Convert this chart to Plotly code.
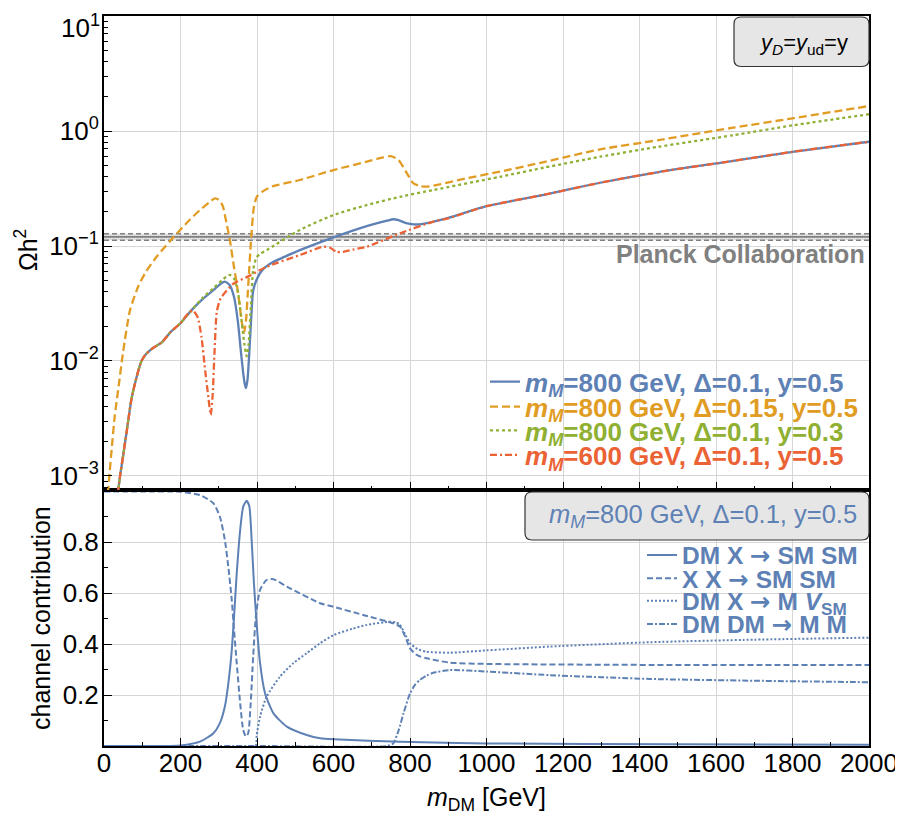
import plotly.graph_objects as go

FONT = "Liberation Sans"
BLUE = "#5E81B5"
ORANGE = "#E19C24"
GREEN = "#8FB032"
RED = "#EB6235"
GRAY = "#808080"

# ---------------- top panel data: relic density Omega h^2 ----------------
x_blue = [36, 42, 50, 59, 72, 85, 98, 110, 130, 151, 175, 200, 229, 260, 286, 305, 316, 328, 340, 350, 358,
          364, 368, 371, 375, 380, 385, 390, 400, 416, 440, 470, 512, 600, 687, 740, 756, 770, 790, 810, 830,
          900, 1000, 1150, 1297, 1450, 1645, 1800, 2000]
y_blue = [0.0007, 0.001, 0.0015, 0.0024, 0.0047, 0.0072, 0.0100, 0.0115, 0.0131, 0.0145, 0.018, 0.0213,
          0.0277, 0.035, 0.0413, 0.047, 0.049, 0.046, 0.036, 0.022, 0.012, 0.0078, 0.0063, 0.0058, 0.0068,
          0.012, 0.024, 0.041, 0.052, 0.063, 0.072, 0.080, 0.092, 0.119, 0.149, 0.166, 0.171, 0.168, 0.158,
          0.154, 0.155, 0.176, 0.222, 0.279, 0.355, 0.44, 0.55, 0.66, 0.807]

x_orange = [10, 15, 20, 28, 37, 50, 68, 90, 110, 138, 170, 199, 225, 251, 275, 290, 300, 310, 320, 329, 340,
            347, 355, 361, 366, 371, 377, 385, 392, 400, 416, 440, 512, 600, 687, 730, 750, 770, 790, 809,
            825, 843, 880, 948, 1035, 1150, 1297, 1450, 1645, 1800, 2000]
y_orange = [0.0007, 0.0011, 0.0017, 0.0033, 0.0056, 0.012, 0.0277, 0.045, 0.060, 0.081, 0.108, 0.138, 0.170,
            0.206, 0.240, 0.260, 0.252, 0.225, 0.160, 0.113, 0.065, 0.047, 0.030, 0.021, 0.0175, 0.022, 0.045,
            0.12, 0.22, 0.27, 0.30, 0.33, 0.375, 0.458, 0.541, 0.59, 0.605, 0.56, 0.44, 0.351, 0.333, 0.328,
            0.345, 0.388, 0.443, 0.537, 0.693, 0.834, 1.07, 1.29, 1.65]

x_green = [36, 42, 50, 59, 72, 85, 98, 110, 130, 151, 175, 200, 229, 260, 286, 310, 329, 340, 350, 360, 367,
           373, 378, 384, 390, 399, 410, 425, 512, 600, 687, 774, 861, 1035, 1150, 1297, 1450, 1645, 1800, 2000]
y_green = [0.0007, 0.001, 0.0015, 0.0024, 0.0047, 0.0072, 0.0100, 0.0115, 0.0131, 0.0145, 0.018, 0.0213,
           0.0277, 0.036, 0.043, 0.051, 0.056, 0.052, 0.040, 0.022, 0.014, 0.011, 0.014, 0.030, 0.062, 0.080,
           0.086, 0.092, 0.138, 0.186, 0.227, 0.268, 0.307, 0.40, 0.48, 0.598, 0.73, 0.92, 1.12, 1.40]

x_red = [36, 42, 50, 59, 72, 85, 98, 110, 130, 151, 175, 200, 220, 232, 245, 255, 265, 273, 279, 284, 289,
         295, 305, 329, 338, 380, 425, 512, 573, 590, 608, 625, 650, 687, 774, 861, 900, 1000, 1150, 1297,
         1450, 1645, 1800, 2000]
y_red = [0.0007, 0.001, 0.0015, 0.0024, 0.0047, 0.0072, 0.0100, 0.0115, 0.0131, 0.0145, 0.018, 0.0213,
         0.026, 0.0275, 0.024, 0.016, 0.008, 0.0048, 0.0034, 0.005, 0.012, 0.027, 0.035, 0.044, 0.047, 0.055,
         0.066, 0.0835, 0.0986, 0.097, 0.089, 0.089, 0.093, 0.0986, 0.129, 0.163, 0.174, 0.222, 0.279, 0.355,
         0.44, 0.55, 0.66, 0.807]

planck_x = [0, 2000]
planck_central = 0.120
planck_error = 0.008

# ---------------- bottom panel data: channel contributions ----------------
x_ch1 = [0, 150, 199, 251, 286, 303, 316, 325, 334, 340, 347, 356, 364, 373, 380, 386, 392, 399, 408, 421,
         443, 478, 530, 565, 600, 774, 1000, 1500, 2000]
y_ch1 = [0.0, 0.0, 0.002, 0.017, 0.05, 0.09, 0.155, 0.245, 0.376, 0.507, 0.677, 0.847, 0.939, 0.962, 0.939,
         0.808, 0.638, 0.481, 0.325, 0.207, 0.128, 0.076, 0.043, 0.03, 0.026, 0.017, 0.010, 0.007, 0.005]

x_ch2 = [0, 100, 199, 251, 286, 303, 316, 325, 334, 340, 347, 356, 364, 371, 377, 383, 390, 397, 408, 425,
         443, 478, 565, 600, 687, 756, 774, 790, 800, 820, 843, 904, 1000, 1427, 2000]
y_ch2 = [0.998, 0.998, 0.997, 0.984, 0.952, 0.899, 0.808, 0.703, 0.573, 0.455, 0.325, 0.168, 0.063, 0.037,
         0.05, 0.155, 0.351, 0.507, 0.612, 0.651, 0.654, 0.625, 0.56, 0.546, 0.51, 0.481, 0.468, 0.42, 0.383,
         0.355, 0.344, 0.327, 0.322, 0.318, 0.318]

x_ch3 = [0, 200, 396, 399, 408, 425, 460, 495, 530, 565, 600, 650, 687, 748, 765, 774, 790, 800,
         820, 843, 904, 1000, 1166, 1427, 1700, 2000]
y_ch3 = [0.0, 0.0, 0.0, 0.04, 0.115, 0.193, 0.272, 0.325, 0.364, 0.403, 0.435, 0.46, 0.475,
         0.487, 0.484, 0.475, 0.43, 0.403, 0.38, 0.37, 0.366, 0.375, 0.39, 0.407, 0.417, 0.425]

x_ch4 = [0, 400, 740, 756, 770, 783, 800, 813, 826, 843, 861, 904, 1000, 1166, 1427, 1700, 2000]
y_ch4 = [0.0, 0.0, 0.0, 0.01, 0.06, 0.128, 0.206, 0.24, 0.259, 0.276, 0.287, 0.298, 0.292, 0.278, 0.263,
         0.256, 0.25]

# ---------------- labels ----------------
ARROW = '<span style="font-family:DejaVu Sans">→</span>'
top_names = ["<i>m</i><sub><i>M</i></sub>=800 GeV, Δ=0.1, y=0.5",
             "<i>m</i><sub><i>M</i></sub>=800 GeV, Δ=0.15, y=0.5",
             "<i>m</i><sub><i>M</i></sub>=800 GeV, Δ=0.1, y=0.3",
             "<i>m</i><sub><i>M</i></sub>=600 GeV, Δ=0.1, y=0.5"]
bottom_names = [f"DM X {ARROW} SM SM", f"X X {ARROW} SM SM", f"DM X {ARROW} M <i>V</i><sub>SM</sub>",
                f"DM DM {ARROW} M M"]
x_tickvals = [0, 200, 400, 600, 800, 1000, 1200, 1400, 1600, 1800, 2000]
log_tickvals = [1e-3, 1e-2, 1e-1, 1e0, 1e1]
log_ticktext = ["10<sup>−3</sup>", "10<sup>−2</sup>", "10<sup>−1</sup>", "10<sup>0</sup>", ""]
top_tick_label = "10<sup>1</sup>"   # drawn separately so it is not clipped at the page top
lin_tickvals = [0.2, 0.4, 0.6, 0.8]
lin_ticktext = ["0.2", "0.4", "0.6", "0.8"]

# ---------------- geometry (page pixels; the page body has an 8px margin) ----------------
OFF = 8
W, H = 903 - OFF, 821 - OFF
PL, PR, PT, PB = 104, 869, 16, 746          # plot area on the page
PW, PH = PR - PL, PB - PT
ML, MT = PL - OFF, PT - OFF
MR, MB = W - ML - PW, H - MT - PH
SPLIT = (PB - 490) / PH


def px(xp):
    return (xp - PL) / PW


def py(yp):
    return (PB - yp) / PH


fig = go.Figure()

# Planck band
fig.add_trace(go.Scatter(x=planck_x, y=[planck_central - planck_error] * 2, mode="lines",
                         line=dict(color=GRAY, width=1.5, dash="5px,3px"), xaxis="x2", yaxis="y",
                         showlegend=False, hoverinfo="skip"))
fig.add_trace(go.Scatter(x=planck_x, y=[planck_central + planck_error] * 2, mode="lines", fill="tonexty",
                         fillcolor="rgba(128,128,128,0.25)",
                         line=dict(color=GRAY, width=1.5, dash="5px,3px"), xaxis="x2", yaxis="y",
                         showlegend=False, hoverinfo="skip"))
fig.add_trace(go.Scatter(x=planck_x, y=[planck_central] * 2, mode="lines",
                         line=dict(color=GRAY, width=1.8), xaxis="x2", yaxis="y",
                         showlegend=False, hoverinfo="skip"))

top_series = [(x_blue, y_blue, BLUE, "solid"), (x_orange, y_orange, ORANGE, "8px,4px"),
              (x_green, y_green, GREEN, "3px,3px"), (x_red, y_red, RED, "7px,3px,2px,3px")]
for i, (xs, ys, c, d) in enumerate(top_series):
    fig.add_trace(go.Scatter(x=xs, y=ys, mode="lines", name=top_names[i],
                             line=dict(color=c, width=2.3, dash=d, shape="spline", smoothing=0.6),
                             xaxis="x2", yaxis="y", legend="legend" if i == 0 else f"legend{i + 1}"))

bottom_series = [(x_ch1, y_ch1, "solid"), (x_ch2, y_ch2, "6px,3px"), (x_ch3, y_ch3, "2px,2px"),
                 (x_ch4, y_ch4, "6px,2px,2px,2px")]
for i, (xs, ys, d) in enumerate(bottom_series):
    fig.add_trace(go.Scatter(x=xs, y=ys, mode="lines", name=bottom_names[i],
                             line=dict(color=BLUE, width=2, dash=d, shape="spline", smoothing=0.6),
                             xaxis="x", yaxis="y2", legend=f"legend{i + 5}"))

axis_common = dict(showline=True, linecolor="black", linewidth=2, mirror=True, ticks="inside",
                   ticklen=8, tickwidth=1.2, tickcolor="black", showgrid=True, gridcolor="#d6d6d6",
                   gridwidth=1, zeroline=False, ticklabeloverflow="allow", automargin=False,
                   tickfont=dict(family=FONT, size=26, color="black"))

layout = dict(
    width=W, height=H, margin=dict(l=ML, r=MR, t=MT, b=MB, autoexpand=False),
    paper_bgcolor="white", plot_bgcolor="white",
    font=dict(family=FONT, size=25, color="black"),
    xaxis=dict(domain=[0, 1], anchor="y2", range=[0, 2000], tickvals=x_tickvals,
               minor=dict(dtick=100, ticks="inside", ticklen=4, tickcolor="black", showgrid=False),
               ticklabelstandoff=-7, **axis_common),
    xaxis2=dict(domain=[0, 1], anchor="y", range=[0, 2000], matches="x", tickvals=x_tickvals,
                showticklabels=False,
                minor=dict(dtick=100, ticks="inside", ticklen=4, tickcolor="black", showgrid=False),
                **axis_common),
    yaxis=dict(domain=[SPLIT, 1], anchor="x2", type="log", range=[-3.122, 1.0005], tickvals=log_tickvals,
               ticktext=log_ticktext,
               minor=dict(tickvals=[m * 10 ** e for e in range(-4, 1) for m in range(2, 10)],
                          ticks="inside", ticklen=4, tickcolor="black", showgrid=False),
               ticklabelstandoff=-2, **axis_common),
    yaxis2=dict(domain=[0, SPLIT], anchor="x", range=[0, 1.004], tickvals=lin_tickvals,
                ticktext=lin_ticktext,
                minor=dict(tickvals=[0.1, 0.3, 0.5, 0.7, 0.9], ticks="inside", ticklen=4,
                           tickcolor="black", showgrid=False),
                ticklabelstandoff=-2, **axis_common),
)

# legends: one per entry so that rows can be placed like the original
top_rows = [381.7, 406.7, 430.5, 455]
top_cols = [BLUE, ORANGE, GREEN, RED]
bot_rows = [555, 578.3, 600.7, 624]
for i in range(8):
    key = "legend" if i == 0 else f"legend{i + 1}"
    if i < 4:
        xx, yy, col, fs = px(485), py(top_rows[i]), top_cols[i], 26
    else:
        xx, yy, col, fs = px(642), py(bot_rows[i - 4]), BLUE, 24.5
    layout[key] = dict(x=xx, y=yy, xanchor="left", yanchor="middle", bgcolor="rgba(0,0,0,0)",
                       borderwidth=0, itemwidth=30,
                       font=dict(family=FONT, size=fs, color=col, weight="bold"))

fig.update_layout(**layout)


def rounded_box(x0p, y0p, x1p, y1p, r=7):
    # page-pixel coords -> paper path with rounded corners
    X0, X1 = px(x0p), px(x1p)
    Y0, Y1 = py(y1p), py(y0p)  # bottom, top
    rx, ry = r / PW, r / PH
    return (f"M{X0 + rx},{Y0} L{X1 - rx},{Y0} Q{X1},{Y0} {X1},{Y0 + ry} L{X1},{Y1 - ry} "
            f"Q{X1},{Y1} {X1 - rx},{Y1} L{X0 + rx},{Y1} Q{X0},{Y1} {X0},{Y1 - ry} L{X0},{Y0 + ry} "
            f"Q{X0},{Y0} {X0 + rx},{Y0} Z")


fig.add_shape(type="path", xref="paper", yref="paper", path=rounded_box(734, 17, 869, 66.5),
              fillcolor="#e6e6e6", line=dict(color="#333333", width=1.2), layer="above")
fig.add_shape(type="path", xref="paper", yref="paper", path=rounded_box(525, 492, 869, 540),
              fillcolor="#e6e6e6", line=dict(color="#333333", width=1.2), layer="above")

ann = [
    dict(x=px(101), y=py(9), xanchor="right", yanchor="top", text=top_tick_label,
         font=dict(size=26, color="black")),
    dict(x=px(803), y=py(44), text="<i>y</i><sub><i>D</i></sub>=<i>y</i><sub>ud</sub>=y",
         font=dict(size=22, color="black")),
    dict(x=px(703), y=py(516), text="<i>m</i><sub><i>M</i></sub>=800 GeV, Δ=0.1, y=0.5",
         font=dict(size=25.5, color=BLUE)),
    dict(x=px(866), y=py(254), xanchor="right", text="<b>Planck Collaboration</b>",
         font=dict(size=25, color=GRAY)),
    dict(x=px(26), y=py(250), text="Ωh<sup>2</sup>", textangle=-90, font=dict(size=25, color="black")),
    dict(x=px(41), y=py(618), text="channel contribution", textangle=-90,
         font=dict(size=25, color="black")),
    dict(x=px(486), y=py(799), text="<i>m</i><sub>DM</sub> [GeV]", font=dict(size=25, color="black")),
]
for a in ann:
    a.setdefault("xanchor", "center")
    a.setdefault("yanchor", "middle")
    a.update(xref="paper", yref="paper", showarrow=False, borderpad=0)
    a["font"]["family"] = FONT
    fig.add_annotation(**a)

fig.write_html("out.html")
